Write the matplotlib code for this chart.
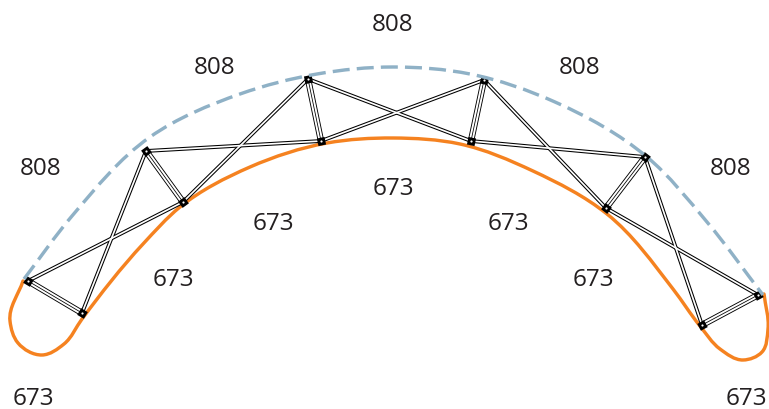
import numpy as np
import matplotlib
matplotlib.use("Agg")
import matplotlib.pyplot as plt
from matplotlib.path import Path
from matplotlib.patches import PathPatch

# everything, in image pixels
blue_x = [24, 72, 150, 240, 317, 393, 470, 555, 647, 707, 763]
blue_y = [280, 217, 138, 95, 75, 68, 75, 103, 158, 223, 296]

orange_x = [23, 10, 18, 42, 64, 82, 143, 180, 250, 327, 393, 460, 533, 607, 673, 700, 720, 743, 762, 768, 764]
orange_y = [282, 322, 344, 356, 345, 320, 245, 208, 168, 144, 139, 145, 172, 215, 290, 327, 350, 361, 353, 330, 295]

node_names = list("ABCDEFGHIJKL")
node_x = [28, 82, 146, 183, 308, 321, 484, 471, 645, 606, 758, 702]
node_y = [282, 314, 152, 203, 80, 142, 81, 142, 158, 209, 296, 326]

double_bars = ["AD", "BC", "CF", "DE", "EH", "FG", "GJ", "HI", "IL", "JK"]
triple_bars = ["AB", "CD", "EF", "GH", "IJ", "KL"]

labels_808 = [(393, 25), (215, 68), (580, 68), (41, 169), (731, 169)]
labels_673 = [(393, 189), (273, 224), (508, 224), (173, 280), (593, 280), (33, 399), (746, 399)]

TEXT = "#231f20"
BLUE = "#8fb1c6"
ORANGE = "#f58220"
PX = 0.72  # 1 px in points at dpi 100


def smooth_path(xs, ys):
    """Bezier path through the given points, tangents weighted by the gap to each neighbour."""
    p = np.column_stack([xs, ys]).astype(float)
    gaps = np.diff(p, axis=0)
    lens = np.linalg.norm(gaps, axis=1)
    tang = np.zeros_like(p)
    tang[0] = gaps[0] / lens[0]
    tang[-1] = gaps[-1] / lens[-1]
    for i in range(1, len(p) - 1):
        d = gaps[i - 1] / lens[i - 1] * lens[i] + gaps[i] / lens[i] * lens[i - 1]
        tang[i] = d / np.linalg.norm(d)
    verts = [p[0]]
    codes = [Path.MOVETO]
    for i in range(len(p) - 1):
        verts += [p[i] + tang[i] * lens[i] / 3, p[i + 1] - tang[i + 1] * lens[i] / 3, p[i + 1]]
        codes += [Path.CURVE4] * 3
    return Path(verts, codes)


fig = plt.figure(figsize=(7.69, 4.10), dpi=100)
ax = fig.add_axes([0, 0, 1, 1])
ax.set_xlim(0, 769)
ax.set_ylim(410, 0)
ax.axis("off")

nodes = {n: (x, y) for n, x, y in zip(node_names, node_x, node_y)}

# truss bars
for a, b in double_bars:
    xs = [nodes[a][0], nodes[b][0]]
    ys = [nodes[a][1], nodes[b][1]]
    ax.plot(xs, ys, color="black", lw=3.8 * PX, solid_capstyle="butt", zorder=2)
    ax.plot(xs, ys, color="white", lw=1.7 * PX, solid_capstyle="butt", zorder=2.1)
for a, b in triple_bars:
    xs = [nodes[a][0], nodes[b][0]]
    ys = [nodes[a][1], nodes[b][1]]
    ax.plot(xs, ys, color="black", lw=6.4 * PX, solid_capstyle="butt", zorder=3)
    ax.plot(xs, ys, color="white", lw=4.6 * PX, solid_capstyle="butt", zorder=3.1)
    ax.plot(xs, ys, color="black", lw=0.8 * PX, solid_capstyle="butt", zorder=3.2)
    # joints turned along the short bar
    ang = np.degrees(np.arctan2(nodes[a][1] - nodes[b][1], nodes[b][0] - nodes[a][0]))
    ax.scatter(xs, ys, s=62, marker=(4, 0, 45 + ang), color="black", linewidths=0, zorder=4)
    ax.scatter(xs, ys, s=2.5, marker="o", color="white", linewidths=0, zorder=4.1)

# outer dashed curve and inner orange curve
ax.add_patch(PathPatch(smooth_path(blue_x, blue_y), fill=False, edgecolor=BLUE, lw=3.4 * PX,
                       linestyle=(0, (5.0, 2.1)), capstyle="butt", zorder=5))
ax.add_patch(PathPatch(smooth_path(orange_x, orange_y), fill=False, edgecolor=ORANGE, lw=3.4 * PX,
                       capstyle="round", zorder=1))

for x, y in labels_808:
    ax.text(x, y, "808", family="Open Sans", fontsize=17.5, color=TEXT, ha="center", va="center")
for x, y in labels_673:
    ax.text(x, y, "673", family="Open Sans", fontsize=17.5, color=TEXT, ha="center", va="center")

fig.savefig("out.png", dpi=100)
